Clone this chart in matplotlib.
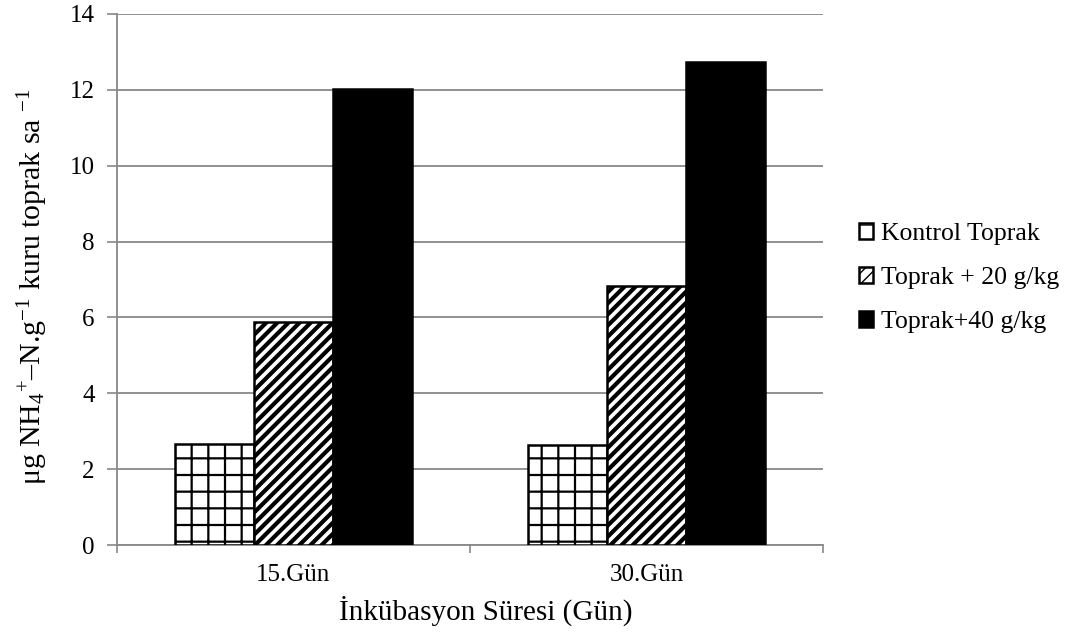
import matplotlib
matplotlib.use("Agg")
import matplotlib.pyplot as plt
import numpy as np

plt.rcParams['font.family'] = ['Liberation Serif', 'DejaVu Serif']
plt.rcParams['mathtext.fontset'] = 'custom'
plt.rcParams['mathtext.rm'] = 'Liberation Serif'
plt.rcParams['mathtext.it'] = 'Liberation Serif:italic'
plt.rcParams['mathtext.bf'] = 'Liberation Serif:bold'

# Data
categories = ['15.Gün', '30.Gün']
series_names = ['Kontrol Toprak', 'Toprak + 20 g/kg', 'Toprak+40 g/kg']
kontrol = [2.66, 2.64]
toprak20 = [5.88, 6.84]
toprak40 = [12.02, 12.73]
yticks = [0, 2, 4, 6, 8, 10, 12, 14]

fig = plt.figure(figsize=(10.71, 6.35), dpi=100)
ax = fig.add_axes([0.1092, 0.1417, 0.6592, 0.8363])

x = np.arange(len(categories))
w = 0.224
styles = [
    dict(facecolor='white', edgecolor='black', hatch='+', hlw=1.6),
    dict(facecolor='white', edgecolor='black', hatch='///', hlw=3.0),
    dict(facecolor='black', edgecolor='black', hatch=None, hlw=1.0),
]
handles = []
for i, (vals, name, st) in enumerate(zip([kontrol, toprak20, toprak40], series_names, styles)):
    plt.rcParams['hatch.linewidth'] = st['hlw']
    bars = ax.bar(x + (i - 1) * w, vals, width=w, facecolor=st['facecolor'],
                  edgecolor=st['edgecolor'], hatch=st['hatch'], linewidth=1.8,
                  label=name, zorder=3)
    for b in bars:
        if hasattr(b, 'set_hatch_linewidth'):
            b.set_hatch_linewidth(st['hlw'])
    handles.append(bars)

ax.set_xlim(-0.5, 1.5)
ax.set_ylim(0, 14)
ax.set_yticks(yticks)
ax.set_yticklabels([str(t) for t in yticks], fontsize=18)
ax.set_xticks(x)
ax.set_xticklabels(categories, fontsize=18)
ax.set_xticks([-0.5, 0.5, 1.5], minor=True)
ax.tick_params(axis='x', which='major', length=0, pad=14)
ax.tick_params(axis='x', which='minor', length=6, color='#888888', width=1.2)
ax.tick_params(axis='y', length=7, color='#888888', width=1.2, pad=9)

ax.grid(axis='y', color='#888888', linewidth=1.3, zorder=0)
ax.set_axisbelow(True)
for s in ['top', 'right']:
    ax.spines[s].set_visible(False)
for s in ['left', 'bottom']:
    ax.spines[s].set_color('#888888')
    ax.spines[s].set_linewidth(1.3)

ax.set_xlabel('İnkübasyon Süresi (Gün)', fontsize=21)
ax.xaxis.set_label_coords(0.523, -0.095)
ax.set_ylabel(r'μg NH$_4$$^{+}$–N.g$^{-1}$ kuru toprak sa $^{-1}$', fontsize=21.5)
ax.yaxis.set_label_coords(-0.095, 0.487)

leg = fig.legend(handles=handles, labels=series_names, loc='center left',
                 bbox_to_anchor=(0.79, 0.562), frameon=False, fontsize=18.5,
                 handlelength=0.55, handleheight=0.55, handletextpad=0.3,
                 labelspacing=0.85, borderpad=0)

fig.savefig('out.png', dpi=100, facecolor='white')
